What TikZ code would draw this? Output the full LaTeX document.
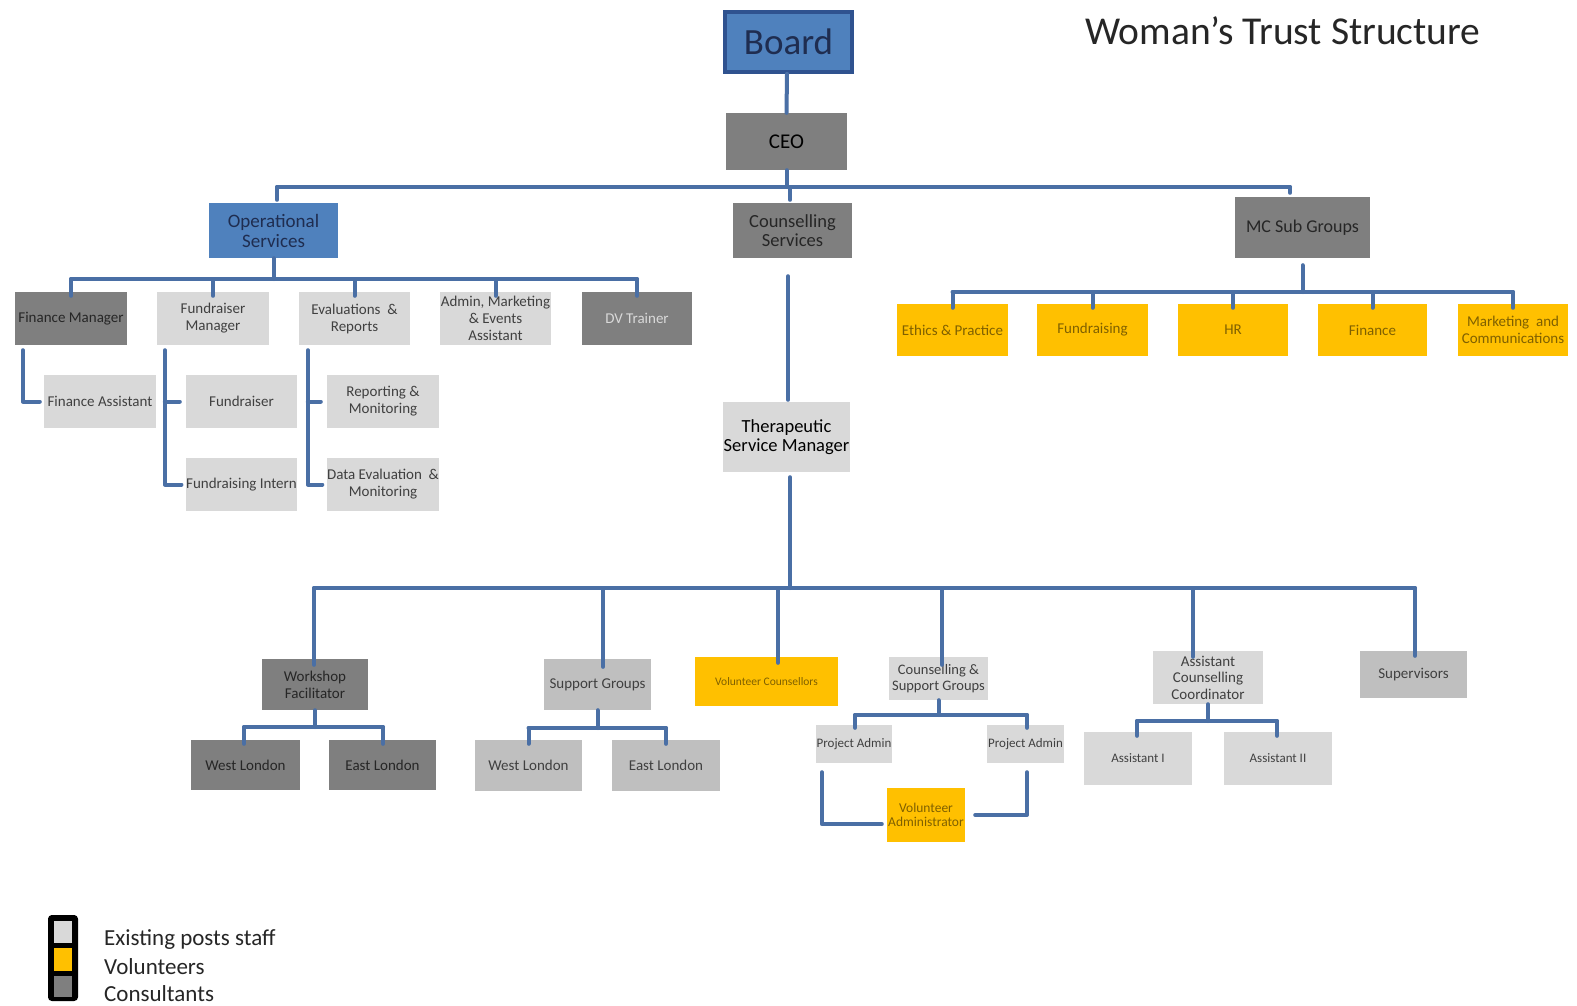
\documentclass[tikz,border=0pt]{standalone}
\usepackage{fontspec}
\setmainfont{Carlito}
\definecolor{lc}{HTML}{4A6FA5}
\definecolor{dgray}{HTML}{7F7F7F}
\definecolor{mgray}{HTML}{BFBFBF}
\definecolor{lgray}{HTML}{D9D9D9}
\definecolor{yel}{HTML}{FFC000}
\definecolor{ybrown}{HTML}{7F6000}
\definecolor{tgray}{HTML}{404040}
\definecolor{tdark}{HTML}{262626}
\definecolor{opblue}{HTML}{4F81BD}
\definecolor{bborder}{HTML}{2F528F}
\definecolor{navy}{HTML}{1F2D50}
\tikzset{
  box/.style={draw=none, inner sep=0.5pt, align=center, font=\fontsize{15}{17}\selectfont},
  dk/.style={box, fill=dgray, text=tdark},
  lt/.style={box, fill=lgray, text=tgray},
  md/.style={box, fill=mgray, text=tgray},
  yl/.style={box, fill=yel, text=ybrown},
  conn/.style={draw=lc, line width=4pt, line cap=round, line join=round},
  legtext/.style={anchor=west, font=\fontsize{23}{25}\selectfont, text=tdark, inner sep=0pt}
}
\newcommand\bx[6]{\node[#1, minimum width=#4pt, minimum height=#5pt] (#2) at (#3) {#6};}
\begin{document}
\begin{tikzpicture}[x=1pt,y=-1pt]
\useasboundingbox (0,0) rectangle (1577,1005);
\fill[white] (0,0) rectangle (1577,1005);

% title
\node[anchor=west, inner sep=0pt, font=\fontsize{39.5}{42}\selectfont, text=tdark] (title) at (1085,31) {Woman’s Trust Structure};

% top level
\node[fill=opblue, draw=bborder, line width=3.5pt, minimum width=127pt, minimum height=60pt, inner sep=0pt,
      font=\fontsize{37}{40}\selectfont, text=navy] (board) at (788.5,42) {Board};
\node[box, fill=dgray, text=black, minimum width=121pt, minimum height=57pt, font=\fontsize{21}{23}\selectfont] (ceo) at (786.5,141.5) {CEO};
\node[box, fill=opblue, text=navy, minimum width=129pt, minimum height=55pt, font=\fontsize{19}{20}\selectfont] (ops) at (273.5,230.5) {Operational\\Services};
\node[box, fill=dgray, text=tdark, minimum width=119pt, minimum height=55pt, font=\fontsize{18.5}{18.5}\selectfont] (cs) at (792.5,230.5) {Counselling\\Services};
\node[box, fill=dgray, text=tdark, minimum width=135pt, minimum height=61pt, font=\fontsize{18}{20}\selectfont] (mc) at (1302.5,227.5) {MC Sub Groups};

% operational row
\bx{dk}{fm}{71,318.5}{112}{53}{Finance Manager}
\bx{lt}{fmg}{213,318.5}{112}{53}{Fundraiser\\Manager}
\bx{lt}{er}{354.5,318.5}{111}{53}{Evaluations \ \&\\Reports}
\bx{lt}{adm}{495.5,318.5}{111}{53}{Admin, Marketing\\\& Events\\Assistant}
\node[box, fill=dgray, text=lgray, minimum width=110pt, minimum height=53pt] (dv) at (637,318.5) {DV Trainer};

\bx{lt}{fa}{100,401.5}{112}{53}{Finance Assistant}
\bx{lt}{fr}{241.5,401.5}{111}{53}{Fundraiser}
\bx{lt}{fi}{241.5,484.5}{111}{53}{Fundraising Intern}
\bx{lt}{rm}{383,401.5}{112}{53}{Reporting \&\\Monitoring}
\bx{lt}{de}{383,484.5}{112}{53}{Data Evaluation \ \&\\Monitoring}

% MC sub groups row
\bx{yl}{eth}{952.5,330}{111}{52}{Ethics \& Practice}
\bx{yl}{fun}{1092.5,330}{111}{52}{Fundraising}
\bx{yl}{hr}{1233,330}{110}{52}{HR}
\bx{yl}{fin}{1372.5,330}{109}{52}{Finance}
\bx{yl}{mkt}{1513,330}{110}{52}{Marketing \ and\\Communications}

% therapeutic
\node[box, fill=lgray, text=black, minimum width=123pt, minimum height=70pt, font=\fontsize{18.5}{18.5}\selectfont] (tsm) at (786.5,437) {Therapeutic\\Service Manager};

% bottom row
\bx{dk}{wf}{315,684.5}{106}{51}{Workshop\\Facilitator}
\bx{md}{sg}{597.5,684.5}{107}{51}{Support Groups}
\node[box, fill=yel, text=ybrown, minimum width=143pt, minimum height=49pt, font=\fontsize{11.5}{13}\selectfont] (vc) at (766.5,681.5) {Volunteer Counsellors};
\node[box, fill=lgray, text=tgray, minimum width=99pt, minimum height=43pt, font=\fontsize{14.5}{16.5}\selectfont] (csg) at (938.5,678.5) {Counselling \&\\Support Groups};
\node[box, fill=lgray, text=tgray, minimum width=110pt, minimum height=53pt, font=\fontsize{15}{16.5}\selectfont] (acc) at (1208,677.5) {Assistant\\Counselling\\Coordinator};
\bx{md}{sup}{1413.5,674.5}{107}{47}{Supervisors}

\bx{dk}{wl1}{245.5,765}{109}{50}{West London}
\bx{dk}{el1}{382.5,765}{107}{50}{East London}
\bx{md}{wl2}{528.5,765.5}{107}{51}{West London}
\bx{md}{el2}{666,765.5}{108}{51}{East London}
\node[box, fill=lgray, text=tgray, minimum width=76pt, minimum height=38pt, font=\fontsize{13}{15}\selectfont] (pa1) at (854,744) {Project Admin};
\node[box, fill=lgray, text=tgray, minimum width=77pt, minimum height=38pt, font=\fontsize{13}{15}\selectfont] (pa2) at (1025.5,744) {Project Admin};
\node[box, fill=yel, text=ybrown, minimum width=78pt, minimum height=54pt, font=\fontsize{13.5}{14}\selectfont] (va) at (926,815) {Volunteer\\Administrator};
\node[box, fill=lgray, text=tgray, minimum width=108pt, minimum height=53pt, font=\fontsize{13}{15}\selectfont] (a1) at (1138,758.5) {Assistant I};
\node[box, fill=lgray, text=tgray, minimum width=108pt, minimum height=53pt, font=\fontsize{13}{15}\selectfont] (a2) at (1278,758.5) {Assistant II};

% ---------- connectors ----------
\coordinate (b1) at (0,187);
\coordinate (b2) at (0,279);
\coordinate (b4) at (0,292);
\coordinate (b3) at (0,588);

\draw[conn] ([xshift=-1.5pt]board.south) -- (ceo.north);
\draw[conn] (ceo.south) -- (ceo.south |- b1);
\draw[conn] ([xshift=3.5pt]ops.north |- b1) -- ([xshift=-12.5pt]mc.north |- b1);
\draw[conn] ([xshift=3.5pt]ops.north |- b1) -- ([xshift=3.5pt,yshift=3pt]ops.north);
\draw[conn] ([xshift=-2.5pt]cs.north |- b1) -- ([xshift=-2.5pt,yshift=3pt]cs.north);
\draw[conn] ([xshift=-12.5pt]mc.north |- b1) -- ([xshift=-12.5pt,yshift=4pt]mc.north);

% operational
\draw[conn] (ops.south) -- (ops.south |- b2);
\draw[conn] (fm.north |- b2) -- (dv.north |- b2);
\foreach \n in {fm,fmg,er,adm,dv} \draw[conn] (\n.north |- b2) -- ([yshift=-4pt]\n.north);
\draw[conn] ([xshift=8pt,yshift=-5pt]fm.south west) |- ([xshift=-4pt]fa.west);
\draw[conn] ([xshift=8pt,yshift=-5pt]fmg.south west) |- ([xshift=-4pt]fi.west);
\draw[conn] ([xshift=8pt]fmg.south west |- fr.west) -- ([xshift=-6pt]fr.west);
\draw[conn] ([xshift=9pt,yshift=-5pt]er.south west) |- ([xshift=-4pt]de.west);
\draw[conn] ([xshift=9pt]er.south west |- rm.west) -- ([xshift=-6pt]rm.west);

% MC
\draw[conn] ([yshift=-7pt]mc.south) -- (mc.south |- b4);
\draw[conn] (eth.north |- b4) -- (mkt.north |- b4);
\foreach \n in {eth,fun,hr,fin,mkt} \draw[conn] (\n.north |- b4) -- ([yshift=-4pt]\n.north);

% counselling
\draw[conn] ([xshift=-4.5pt,yshift=-18pt]cs.south) -- ([xshift=1.5pt,yshift=2pt]tsm.north);
\draw[conn] ([xshift=3.5pt,yshift=-5pt]tsm.south) -- ([xshift=3.5pt]tsm.south |- b3);
\draw[conn] ([xshift=-1pt]wf.north |- b3) -- ([xshift=1.5pt]sup.north |- b3);
\draw[conn] ([xshift=-1pt]wf.north |- b3) -- ([xshift=-1pt,yshift=-6pt]wf.north);
\draw[conn] ([xshift=5.5pt]sg.north |- b3) -- ([xshift=5.5pt,yshift=-8pt]sg.north);
\draw[conn] ([xshift=11.5pt]vc.north |- b3) -- ([xshift=11.5pt,yshift=-6pt]vc.north);
\draw[conn] ([xshift=3.5pt]csg.north |- b3) -- ([xshift=3.5pt,yshift=-8pt]csg.north);
\draw[conn] ([xshift=-15pt]acc.north |- b3) -- ([xshift=-15pt,yshift=-6pt]acc.north);
\draw[conn] ([xshift=1.5pt]sup.north |- b3) -- ([xshift=1.5pt,yshift=-5pt]sup.north);

% sub buses
\coordinate (w1) at (0,727);
\draw[conn] (wf.south) -- (wf.south |- w1);
\draw[conn] ([xshift=-1.5pt]wl1.north |- w1) -- ([xshift=0.5pt]el1.north |- w1);
\draw[conn] ([xshift=-1.5pt]wl1.north |- w1) -- ([xshift=-1.5pt,yshift=-4pt]wl1.north);
\draw[conn] ([xshift=0.5pt]el1.north |- w1) -- ([xshift=0.5pt,yshift=-4pt]el1.north);

\coordinate (s1) at (0,728);
\draw[conn] (sg.south) -- (sg.south |- s1);
\draw[conn] (wl2.north |- s1) -- (el2.north |- s1);
\draw[conn] (wl2.north |- s1) -- ([yshift=-4pt]wl2.north);
\draw[conn] (el2.north |- s1) -- ([yshift=-4pt]el2.north);

\coordinate (c1) at (0,715);
\draw[conn] (csg.south) -- (csg.south |- c1);
\draw[conn] ([xshift=1pt]pa1.north |- c1) -- ([xshift=1.5pt]pa2.north |- c1);
\draw[conn] ([xshift=1pt]pa1.north |- c1) -- ([xshift=1pt,yshift=-3pt]pa1.north);
\draw[conn] ([xshift=1.5pt]pa2.north |- c1) -- ([xshift=1.5pt,yshift=-3pt]pa2.north);
\draw[conn] ([xshift=6pt,yshift=-9pt]pa1.south west) |- ([xshift=-5pt,yshift=-9pt]va.west);
\draw[conn] ([xshift=1.5pt,yshift=-9pt]pa2.south) |- ([xshift=10pt]va.east);

\coordinate (a0) at (0,721);
\draw[conn] (acc.south) -- (acc.south |- a0);
\draw[conn] ([xshift=-1pt]a1.north |- a0) -- ([xshift=-1pt]a2.north |- a0);
\draw[conn] ([xshift=-1pt]a1.north |- a0) -- ([xshift=-1pt,yshift=-4pt]a1.north);
\draw[conn] ([xshift=-1pt]a2.north |- a0) -- ([xshift=-1pt,yshift=-4pt]a2.north);

% legend
\node[draw=black, fill=black, line width=2pt, rounded corners=3pt, minimum width=28pt, minimum height=84pt, inner sep=0pt] (leg) at (63,958) {};
\node[fill=lgray, minimum width=18pt, minimum height=22pt, inner sep=0pt] (l1) at (63,932) {};
\node[fill=yel, minimum width=18pt, minimum height=23pt, inner sep=0pt] (l2) at (63,959.5) {};
\node[fill=dgray, minimum width=18pt, minimum height=21pt, inner sep=0pt] (l3) at (63,986) {};
\node[legtext] (t1) at (104,940) {Existing posts staff};
\node[legtext] (t2) at (104,967) {Volunteers};
\node[legtext] (t3) at (104,994) {Consultants};
\end{tikzpicture}
\end{document}
